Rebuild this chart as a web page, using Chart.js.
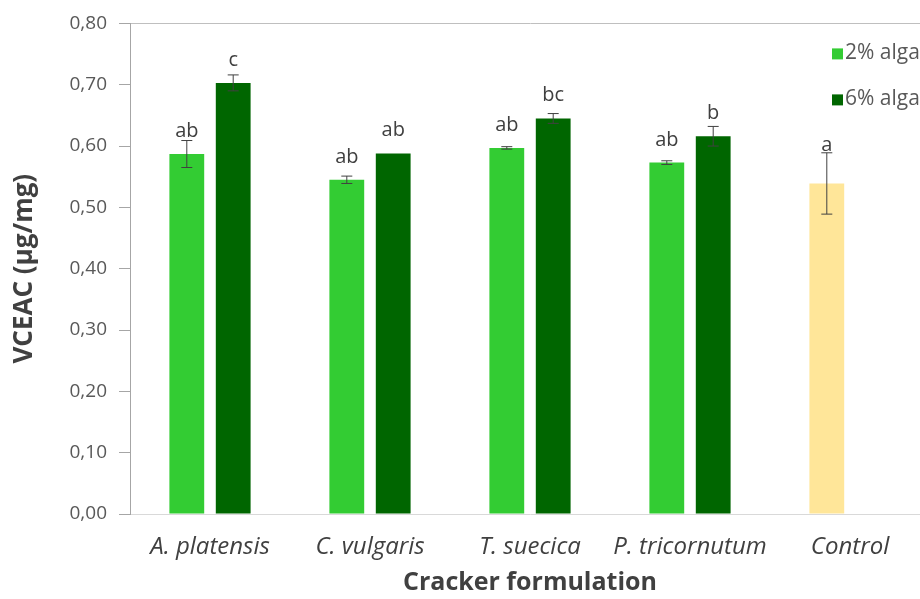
<!DOCTYPE html>
<html>
<head>
<meta charset="utf-8">
<script src="https://cdn.jsdelivr.net/npm/chart.js@4.4.1/dist/chart.umd.min.js"></script>
<style>
  html, body { margin: 0; padding: 0; background: #ffffff; overflow: hidden; }
  #wrap { width: 920px; height: 599px; position: relative; overflow: hidden; }
  #c { position: absolute; left: 0; top: 0; }
</style>
</head>
<body>
<div id="wrap"><canvas id="c" width="1000" height="599"></canvas></div>
<script>
// ---- data ----
const categories = ['A. platensis', 'C. vulgaris', 'T. suecica', 'P. tricornutum', 'Control'];
const seriesNames = ['2% algae', '6% algae'];
const alga2 = [0.587, 0.545, 0.597, 0.573, 0.539];
const alga6 = [0.703, 0.588, 0.645, 0.616, null];
const err2 = [0.022, 0.006, 0.002, 0.003, 0.050];
const err6 = [0.013, 0.000, 0.008, 0.016, null];
const letters2 = ['ab', 'ab', 'ab', 'ab', 'a'];
const letters6 = ['c', 'ab', 'bc', 'b', ''];
const yTickValues = [0, 0.1, 0.2, 0.3, 0.4, 0.5, 0.6, 0.7, 0.8];

const LIGHT = '#33cc33';
const DARK = '#006600';
const CONTROL = '#ffe699';
const FONT = "'Open Sans', 'Noto Sans', sans-serif";

const errors = [err2, err6];
const letters = [letters2, letters6];

const errorBarPlugin = {
  id: 'errorBars',
  afterDatasetsDraw(chart) {
    const ctx = chart.ctx;
    const yScale = chart.scales.y;
    chart.data.datasets.forEach((ds, d) => {
      const meta = chart.getDatasetMeta(d);
      meta.data.forEach((el, i) => {
        const v = ds.data[i];
        if (v === null || v === undefined) return;
        const e = errors[d][i] || 0;
        const x = el.x;
        const yTop = yScale.getPixelForValue(v + e);
        const yBot = yScale.getPixelForValue(v - e);
        ctx.save();
        if (e > 0) {
          ctx.strokeStyle = '#404040';
          ctx.lineWidth = 1;
          ctx.beginPath();
          ctx.moveTo(x, yTop); ctx.lineTo(x, yBot);
          ctx.moveTo(x - 5.5, yTop); ctx.lineTo(x + 5.5, yTop);
          ctx.moveTo(x - 5.5, yBot); ctx.lineTo(x + 5.5, yBot);
          ctx.stroke();
        }
        const txt = letters[d][i];
        if (txt) {
          ctx.fillStyle = '#404040';
          ctx.font = '20px ' + FONT;
          ctx.textAlign = 'center';
          ctx.textBaseline = 'alphabetic';
          const base = Math.min(el.y - 17, yTop - 2);
          ctx.fillText(txt, x, base);
        }
        ctx.restore();
      });
    });
  }
};

const legendPlugin = {
  id: 'overlayLegend',
  afterDraw(chart) {
    const ctx = chart.ctx;
    const area = chart.chartArea;
    const x0 = area.right - 98;
    const ys = [area.top + 30, area.top + 76];
    chart.data.datasets.forEach((ds, d) => {
      ctx.save();
      ctx.fillStyle = ds.legendColor;
      ctx.fillRect(x0, ys[d] - 5, 11, 11);
      ctx.fillStyle = '#595959';
      ctx.font = '21px ' + FONT;
      ctx.textAlign = 'left';
      ctx.textBaseline = 'middle';
      ctx.fillText(ds.label, x0 + 13, ys[d]);
      ctx.restore();
    });
  }
};

new Chart(document.getElementById('c'), {
  type: 'bar',
  data: {
    labels: categories,
    datasets: [
      {
        label: seriesNames[0],
        data: alga2,
        backgroundColor: categories.map((c, i) => i === categories.length - 1 ? CONTROL : LIGHT),
        legendColor: LIGHT,
        categoryPercentage: 0.58,
        barPercentage: 0.75
      },
      {
        label: seriesNames[1],
        data: alga6,
        backgroundColor: DARK,
        legendColor: DARK,
        categoryPercentage: 0.58,
        barPercentage: 0.75
      }
    ]
  },
  options: {
    responsive: false,
    animation: false,
    layout: { padding: { top: 22, right: 70, bottom: 0, left: 0 } },
    plugins: {
      legend: { display: false },
      tooltip: { enabled: false }
    },
    scales: {
      x: {
        grid: { display: false, drawTicks: false },
        border: { display: true, color: '#d9d9d9', width: 1 },
        ticks: {
          color: '#404040',
          padding: 19,
          font: { family: FONT, size: 24, style: 'italic' }
        },
        title: {
          display: true,
          text: 'Cracker formulation',
          color: '#404040',
          font: { family: FONT, size: 25, weight: 'bold' },
          padding: { top: 0, bottom: 1 }
        },
        afterFit(s) { s.height = 85; }
      },
      y: {
        min: 0,
        max: 0.8,
        afterBuildTicks(s) { s.ticks = yTickValues.map(v => ({ value: v })); },
        grid: {
          color: (c) => (c.tick && Math.abs(c.tick.value - 0.8) < 1e-9) ? '#bfbfbf' : 'rgba(0,0,0,0)',
          tickColor: '#a6a6a6',
          tickLength: 11,
          drawTicks: true
        },
        border: { display: true, color: '#a6a6a6', width: 1 },
        ticks: {
          color: '#595959',
          padding: 12,
          font: { family: FONT, size: 19 },
          callback: (v) => Number(v).toFixed(2).replace('.', ',')
        },
        title: {
          display: true,
          text: 'VCEAC (µg/mg)',
          color: '#404040',
          font: { family: FONT, size: 26, weight: 'bold' },
          padding: { top: 9, bottom: 0 }
        },
        afterFit(s) { s.width = 130; }
      }
    }
  },
  plugins: [errorBarPlugin, legendPlugin]
});
</script>
</body>
</html>
